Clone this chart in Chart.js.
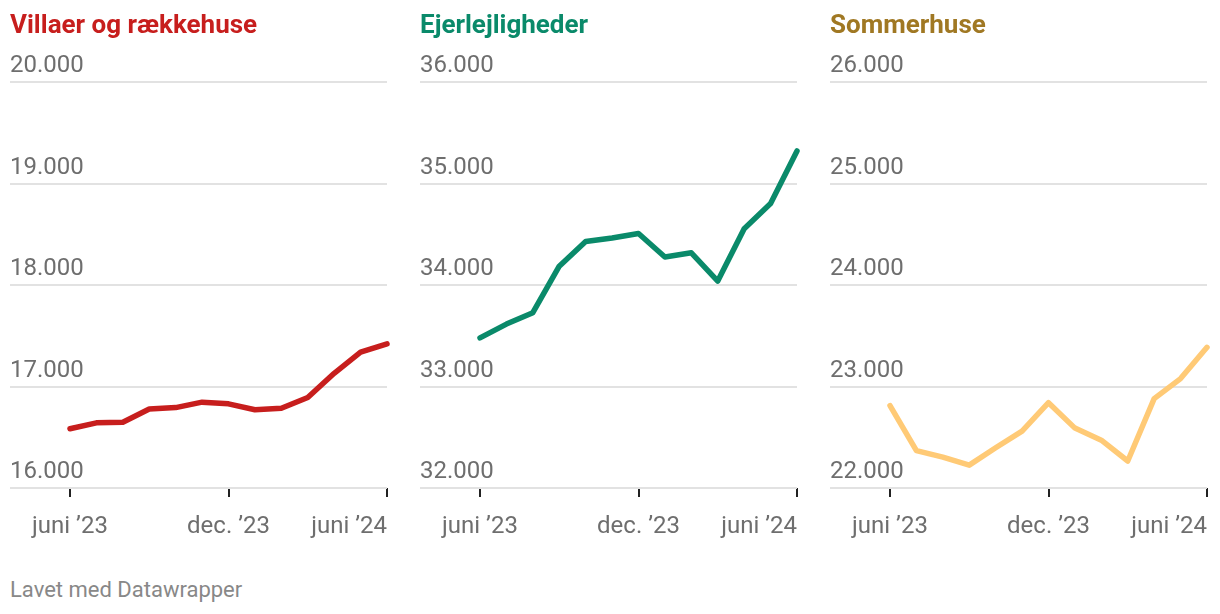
<!DOCTYPE html>
<html>
<head>
<meta charset="utf-8">
<script src="https://cdn.jsdelivr.net/npm/chart.js@4/dist/chart.umd.min.js"></script>
<style>
  html, body { margin: 0; padding: 0; background: #fff; }
  body { width: 1220px; height: 614px; position: relative; overflow: hidden; font-family: Roboto, sans-serif; }
  .panel { position: absolute; top: 0; width: 380px; height: 540px; }
  .panel canvas { position: absolute; left: 0; top: 0; }
  .title { position: absolute; top: 11px; left: 0; font: bold 26px/26px Roboto, sans-serif; white-space: nowrap; }
  .footer { position: absolute; left: 10px; top: 578px; font: 22px/24px Roboto, sans-serif; color: #888; }
</style>
</head>
<body>
<div class="panel" id="p0" style="left:10px"><canvas id="c0" width="380" height="540"></canvas><div class="title" style="color:#c71e1d">Villaer og rækkehuse</div></div>
<div class="panel" id="p1" style="left:420px"><canvas id="c1" width="380" height="540"></canvas><div class="title" style="color:#0a8a6a">Ejerlejligheder</div></div>
<div class="panel" id="p2" style="left:830px"><canvas id="c2" width="380" height="540"></canvas><div class="title" style="color:#a07823">Sommerhuse</div></div>
<div class="footer">Lavet med Datawrapper</div>
<script>
// Months (June 2023 – June 2024)
const months = ['2023-06','2023-07','2023-08','2023-09','2023-10','2023-11','2023-12','2024-01','2024-02','2024-03','2024-04','2024-05','2024-06'];
const tickIndexes = [0, 6, 12];
const tickLabels = ['juni ’23', 'dec. ’23', 'juni ’24'];

const villaer = [16584, 16642, 16648, 16778, 16792, 16846, 16829, 16771, 16785, 16891, 17130, 17338, 17420];
const ejerlejligheder = [33479, 33615, 33727, 34185, 34429, 34463, 34507, 34276, 34317, 34039, 34555, 34802, 35321];
const sommerhuse = [22812, 22369, 22304, 22225, 22396, 22560, 22840, 22590, 22471, 22266, 22880, 23078, 23386];

const yMin = [16000, 32000, 22000];
const yMax = [20000, 36000, 26000];
const seriesNames = ['Villaer og rækkehuse', 'Ejerlejligheder', 'Sommerhuse'];
const seriesColors = ['#c71e1d', '#0a8a6a', '#ffca76'];

function fmt(v) {
  return String(Math.round(v)).replace(/\B(?=(\d{3})+(?!\d))/g, '.');
}

const xLabelPlugin = {
  id: 'xLabels',
  afterDraw(chart) {
    const sc = chart.scales.x;
    const ctx = chart.ctx;
    const area = chart.chartArea;
    ctx.save();
    ctx.font = '24px Roboto, sans-serif';
    ctx.fillStyle = '#6e6e6e';
    ctx.textBaseline = 'alphabetic';
    ctx.textAlign = 'left';
    tickIndexes.forEach((idx, k) => {
      const x = sc.getPixelForValue(idx);
      const w = ctx.measureText(tickLabels[k]).width;
      let left = x - w / 2;
      if (left + w > area.right) left = area.right - w;
      ctx.fillText(tickLabels[k], left, area.bottom + 45);
    });
    ctx.restore();
  }
};

function makeChart(id, values, k) {
  const monthsSpan = months.length - 1;
  new Chart(document.getElementById(id), {
    type: 'line',
    data: {
      datasets: [{
        label: seriesNames[k],
        data: values.map((v, i) => ({ x: i, y: v })),
        borderColor: seriesColors[k],
        borderWidth: 5.5,
        pointRadius: 0,
        pointHoverRadius: 0,
        tension: 0,
        borderJoinStyle: 'round',
        borderCapStyle: 'round',
        clip: false
      }]
    },
    options: {
      responsive: false,
      animation: false,
      events: [],
      layout: { padding: { top: 82, bottom: 43, left: 0, right: 3 } },
      plugins: { legend: { display: false }, tooltip: { enabled: false }, title: { display: false } },
      scales: {
        x: {
          type: 'linear',
          min: -monthsSpan * 60 / 317,
          max: monthsSpan,
          afterBuildTicks: (scale) => { scale.ticks = tickIndexes.map(v => ({ value: v })); },
          border: { display: false },
          grid: { display: true, drawOnChartArea: false, drawTicks: true, tickLength: 9, tickColor: '#222', lineWidth: 2 },
          ticks: { display: false }
        },
        y: {
          min: yMin[k],
          max: yMax[k],
          border: { display: false },
          grid: { color: '#e2e2e2', lineWidth: 2, drawTicks: false },
          ticks: {
            stepSize: 1000,
            mirror: true,
            padding: 0,
            labelOffset: -16,
            color: '#6e6e6e',
            font: { family: 'Roboto, sans-serif', size: 24 },
            callback: (v) => fmt(v)
          }
        }
      }
    },
    plugins: [xLabelPlugin]
  });
}

makeChart('c0', villaer, 0);
makeChart('c1', ejerlejligheder, 1);
makeChart('c2', sommerhuse, 2);
</script>
</body>
</html>
